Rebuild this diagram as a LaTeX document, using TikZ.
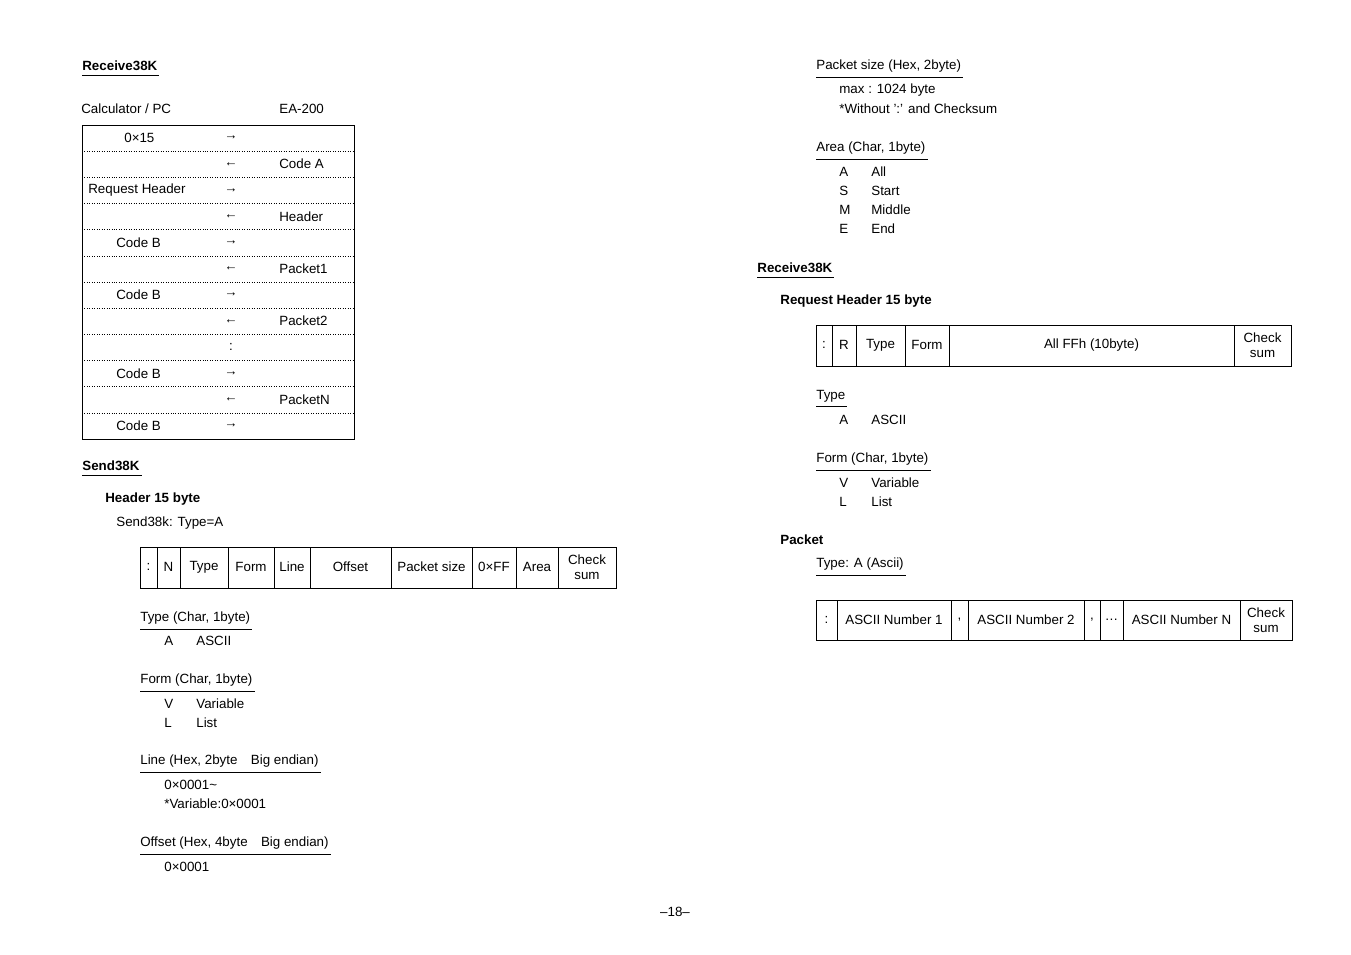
\documentclass[tikz,border=0pt]{standalone}
\usepackage{fontspec}
\setmainfont{Liberation Sans}
\begin{document}
\begin{tikzpicture}[x=0.02cm,y=-0.02cm,
  every node/.style={font=\fontsize{7.6}{8.6}\selectfont,inner sep=0pt,anchor=west},
  ttl/.style={font=\fontsize{7.6}{8.6}\selectfont\bfseries},
  ulined/.style={append after command={([yshift=-2.5pt]\tikzlastnode.south west) edge[draw,-,line width=0.5pt] ([xshift=1pt,yshift=-2.5pt]\tikzlastnode.south east)}},
  cell/.style={anchor=center,align=center},
  sep/.style={densely dotted,line width=0.4pt}]
\useasboundingbox (0,0) rectangle (1351,954);
% ---------- left column ----------
\node[ttl,ulined] (r38a) at (82,66) {Receive38K};
\node (calc) at (81,109) {Calculator / PC};
\node (ea) at (279,109) {EA-200};
\draw[line width=0.5pt] (82,125) rectangle (354,439);
\foreach \i in {1,...,11}
  \draw[sep] (82,125+\i*26.17) -- (354,125+\i*26.17);
\foreach \i/\lt/\lx/\ar/\rt in {0/0×15/124/→/,1//88/←/Code A,2/Request Header/88/→/,
  3//88/←/Header,4/Code B/116/→/,5//88/←/Packet1,6/Code B/116/→/,7//88/←/Packet2,
  8//88/:/,9/Code B/116/→/,10//88/←/PacketN,11/Code B/116/→/}{
  \node (pl\i) at (\lx,138+\i*26.17) {\lt};
  \node[cell] (pa\i) at (231,138+\i*26.17) {\ar};
  \node (pr\i) at (279,138+\i*26.17) {\rt};
}
\node[ttl,ulined] (s38) at (82,466) {Send38K};
\node[ttl] (h15) at (105,499) {Header 15 byte};
\node (s38t) at (116,523) {Send38k: Type=A};
\draw[line width=0.5pt] (140,547) rectangle (616,588);
\foreach \a/\b/\t in {140/157/:,157/180/N,180/228/Type,228/274/Form,274/310/Line,
  310/391/Offset,391/472/Packet size,472/516/0×FF,516/558/Area,558/616/Check\\sum}{
  \draw[line width=0.5pt] (\b,547) -- (\b,588);
  \node[cell] at ({(\a+\b)/2},567) {\t};
}
\node[ulined] (ty1) at (140,618) {Type (Char, 1byte)};
\node at (164,641) {A}; \node at (196,641) {ASCII};
\node[ulined] (fo1) at (140,680) {Form (Char, 1byte)};
\node at (164,704) {V}; \node at (196,704) {Variable};
\node at (164,723) {L}; \node at (196,723) {List};
\node[ulined] (li1) at (140,761) {Line (Hex, 2byte\quad Big endian)};
\node at (164,785) {0×0001\textasciitilde};
\node at (164,804) {*Variable:0×0001};
\node[ulined] (of1) at (140,843) {Offset (Hex, 4byte\quad Big endian)};
\node at (164,867) {0×0001};
% ---------- right column ----------
\node[ulined] (ps) at (816,66) {Packet size (Hex, 2byte)};
\node at (839,90) {max : 1024 byte};
\node at (839,109) {*Without ':' and Checksum};
\node[ulined] (ar) at (816,148) {Area (Char, 1byte)};
\foreach \k/\v [count=\j from 0] in {A/All,S/Start,M/Middle,E/End}{
  \node at (839,172+\j*19) {\k}; \node at (871,172+\j*19) {\v};
}
\node[ttl,ulined] (r38b) at (757,268) {Receive38K};
\node[ttl] (rh15) at (780,301) {Request Header 15 byte};
\draw[line width=0.5pt] (816,325) rectangle (1291,366);
\foreach \a/\b/\t in {816/832/:,832/856/R,856/905/Type,905/949/Form,949/1234/All FFh (10byte),1234/1291/Check\\sum}{
  \draw[line width=0.5pt] (\b,325) -- (\b,366);
  \node[cell] at ({(\a+\b)/2},345) {\t};
}
\node[ulined] (ty2) at (816,396) {Type};
\node at (839,420) {A}; \node at (871,420) {ASCII};
\node[ulined] (fo2) at (816,459) {Form (Char, 1byte)};
\node at (839,483) {V}; \node at (871,483) {Variable};
\node at (839,502) {L}; \node at (871,502) {List};
\node[ttl] (pk) at (780,540) {Packet};
\node[ulined] (pkt) at (816,564) {Type: A (Ascii)};
\draw[line width=0.5pt] (816,600) rectangle (1292,640);
\foreach \a/\b/\t in {816/837/:,837/951/ASCII Number 1,951/968/{,},968/1084/ASCII Number 2,
  1084/1100/{,},1100/1123/…,1123/1240/ASCII Number N,1240/1292/Check\\sum}{
  \draw[line width=0.5pt] (\b,600) -- (\b,640);
  \node[cell] at ({(\a+\b)/2},620) {\t};
}
\node[cell] (pg) at (675,912) {–18–};
\end{tikzpicture}
\end{document}
